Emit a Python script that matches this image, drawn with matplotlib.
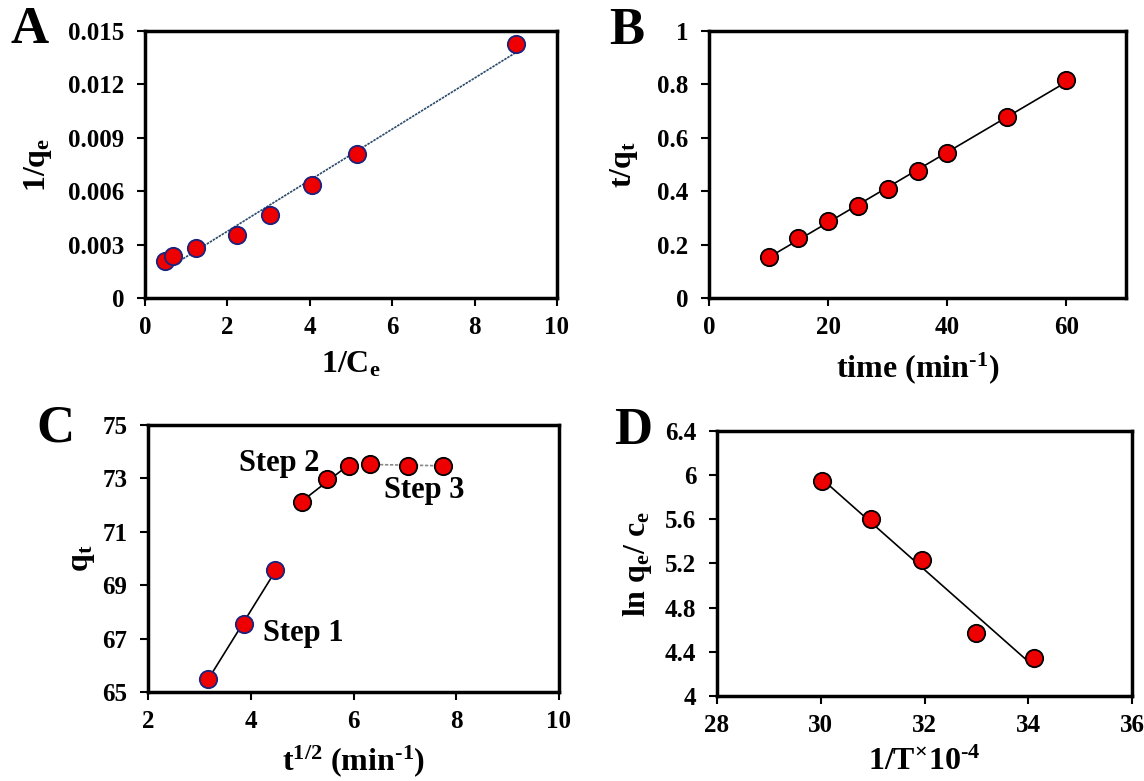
import numpy as np
import matplotlib
matplotlib.use("Agg")
import matplotlib.pyplot as plt

plt.rcParams['font.family'] = ['Liberation Serif', 'DejaVu Serif']
plt.rcParams['font.weight'] = 'bold'
plt.rcParams['mathtext.fontset'] = 'custom'
plt.rcParams['mathtext.rm'] = 'Liberation Serif:bold'
plt.rcParams['mathtext.bf'] = 'Liberation Serif:bold'
plt.rcParams['mathtext.it'] = 'Liberation Serif:bold'
plt.rcParams['mathtext.default'] = 'rm'

# ---- Panel A: Langmuir linear plot ----
a_x = [0.49, 0.67, 1.24, 2.24, 3.04, 4.06, 5.15, 9.0]
a_y = [0.00206, 0.00234, 0.00283, 0.00353, 0.00469, 0.00634, 0.0081, 0.01429]

# ---- Panel B: pseudo-second-order ----
b_x = [10, 15, 20, 25, 30, 35, 40, 50, 60]
b_y = [0.152, 0.224, 0.288, 0.344, 0.41, 0.475, 0.543, 0.678, 0.815]

# ---- Panel C: intraparticle diffusion ----
c_x = [3.16, 3.87, 4.47, 5.0, 5.48, 5.92, 6.32, 7.07, 7.75]
c_y = [65.49, 67.53, 69.56, 72.11, 72.96, 73.48, 73.53, 73.48, 73.48]
c_step1 = [0, 1, 2]
c_step2 = [3, 4, 5]
c_step3 = [6, 7, 8]

# ---- Panel D: van't Hoff ----
d_x = [30.03, 30.96, 31.95, 32.99, 34.12]
d_y = [5.95, 5.606, 5.229, 4.568, 4.344]

W, H = 1144, 781
fig = plt.figure(figsize=(W / 100, H / 100), dpi=100)

TICK = 18
LAB = 23


def add_ax(x0, x1, ytop, ybot):
    return fig.add_axes([x0 / W, 1 - ybot / H, (x1 - x0) / W, (ybot - ytop) / H])


def style(ax):
    for s in ax.spines.values():
        s.set_linewidth(2.5)
        s.set_color('black')
    ax.tick_params(direction='out', length=6, width=1.5, labelsize=TICK,
                   top=False, right=False)
    ax.tick_params(axis='y', pad=9)
    ax.tick_params(axis='x', pad=7)
    for lbl in ax.get_xticklabels() + ax.get_yticklabels():
        lbl.set_fontweight('bold')


def fitline(ax, xs, ys, **kw):
    xs = np.asarray(xs, float)
    ys = np.asarray(ys, float)
    m, c = np.polyfit(xs, ys, 1)
    xx = np.array([xs.min(), xs.max()])
    ax.plot(xx, m * xx + c, zorder=2, **kw)


mk = dict(marker='o', ms=12.5, mfc='#ee0000', linestyle='none', zorder=3)
SUPM = '$^{\\text{-1}}$'

# A
axA = add_ax(145, 557, 31, 298)
fitline(axA, a_x, a_y, color='#2a4a6a', lw=1.2, linestyle=(0, (1.5, 0.6)))
axA.plot(a_x, a_y, mec='#1a237e', mew=1.3, **mk)
axA.set_xlim(0, 10)
axA.set_ylim(0, 0.015)
axA.set_xticks([0, 2, 4, 6, 8, 10])
axA.set_yticks([0, 0.003, 0.006, 0.009, 0.012, 0.015])
axA.set_yticklabels(['0', '0.003', '0.006', '0.009', '0.012', '0.015'])
style(axA)
axA.set_xlabel('1/C$_{\\mathrm{e}}$', fontsize=LAB, fontweight='bold', labelpad=8)
axA.set_ylabel('1/q$_{\\mathrm{e}}$', fontsize=LAB, fontweight='bold', labelpad=10)

# B
axB = add_ax(709, 1126, 31, 298)
fitline(axB, b_x, b_y, color='black', lw=1.2)
axB.plot(b_x, b_y, mec='black', mew=1.3, **mk)
axB.set_xlim(0, 70)
axB.set_ylim(0, 1)
axB.set_xticks([0, 20, 40, 60])
axB.set_yticks([0, 0.2, 0.4, 0.6, 0.8, 1])
axB.set_yticklabels(['0', '0.2', '0.4', '0.6', '0.8', '1'])
style(axB)
axB.set_xlabel('time (min' + SUPM + ')', fontsize=LAB, fontweight='bold', labelpad=8)
axB.set_ylabel('t/q$_{\\mathrm{t}}$', fontsize=LAB, fontweight='bold', labelpad=12)

# C
axC = add_ax(148, 559, 425, 692)
cx = np.array(c_x)
cy = np.array(c_y)
fitline(axC, cx[c_step1], cy[c_step1], color='black', lw=1.2)
fitline(axC, cx[c_step2], cy[c_step2], color='black', lw=1.2)
fitline(axC, cx[c_step3], cy[c_step3], color='#888888', lw=1.2, linestyle=(0, (2, 1)))
axC.plot(cx[c_step1], cy[c_step1], mec='#1a237e', mew=1.3, **mk)
axC.plot(cx[3:], cy[3:], mec='black', mew=1.3, **mk)
axC.set_xlim(2, 10)
axC.set_ylim(65, 75)
axC.set_xticks([2, 4, 6, 8, 10])
axC.set_yticks([65, 67, 69, 71, 73, 75])
style(axC)
axC.text(4.55, 73.55, 'Step 2', fontsize=22, fontweight='bold', ha='center', va='center')
axC.text(7.37, 72.56, 'Step 3', fontsize=22, fontweight='bold', ha='center', va='center')
axC.text(5.03, 67.2, 'Step 1', fontsize=22, fontweight='bold', ha='center', va='center')
axC.set_xlabel('t$^{\\mathrm{1/2}}$ (min' + SUPM + ')', fontsize=LAB, fontweight='bold', labelpad=7)
axC.set_ylabel('q$_{\\mathrm{t}}$', fontsize=LAB, fontweight='bold', labelpad=4)

# D
axD = add_ax(717, 1132, 431, 696)
fitline(axD, d_x, d_y, color='black', lw=1.2)
axD.plot(d_x, d_y, mec='black', mew=1.3, **mk)
axD.set_xlim(28, 36)
axD.set_ylim(4, 6.4)
axD.set_xticks([28, 30, 32, 34, 36])
axD.set_yticks([4, 4.4, 4.8, 5.2, 5.6, 6, 6.4])
axD.set_yticklabels(['4', '4.4', '4.8', '5.2', '5.6', '6', '6.4'])
style(axD)
axD.set_xlabel('1/T$^{\\times}$10$^{\\text{-4}}$', fontsize=LAB, fontweight='bold', labelpad=8)
axD.set_ylabel('ln q$_{\\mathrm{e}}$/ c$_{\\mathrm{e}}$', fontsize=LAB, fontweight='bold', labelpad=8)

# panel letters
for letter, (px, py) in zip(['A', 'B', 'C', 'D'], [(30, 30), (627, 31), (55, 428), (633, 431)]):
    fig.text(px / W, 1 - py / H, letter, fontsize=38, fontweight='bold',
             ha='center', va='center')

fig.savefig('out.png', dpi=100)
